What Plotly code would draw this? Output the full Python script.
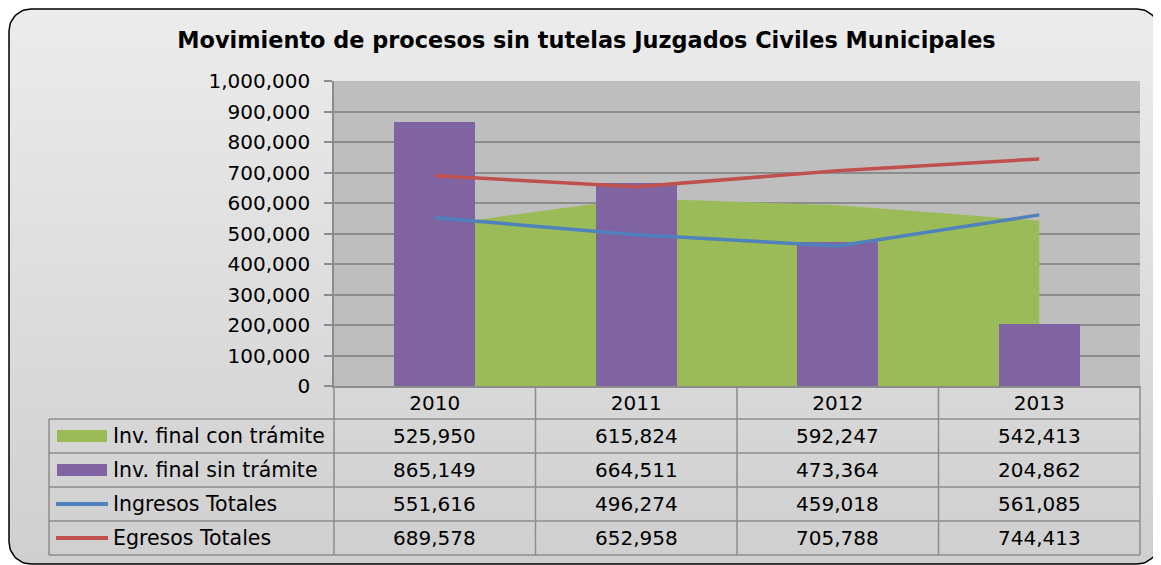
import numpy as np
import plotly.graph_objects as go

# ---------------- data ----------------
years = ["2010", "2011", "2012", "2013"]
inv_con_tramite = [525950, 615824, 592247, 542413]
inv_sin_tramite = [865149, 664511, 473364, 204862]
ingresos_totales = [551616, 496274, 459018, 561085]
egresos_totales = [689578, 652958, 705788, 744413]
series_names = ["Inv. final con trámite", "Inv. final sin trámite",
                "Ingresos Totales", "Egresos Totales"]
y_tickvals = list(range(0, 1000001, 100000))
y_ticktext = [f"{v:,}" for v in y_tickvals]
title = "Movimiento de procesos sin tutelas Juzgados Civiles Municipales"

# ---------------- layout constants (page pixels) ----------------
W, H = 1161, 565
OFF = 8                   # the page body margin that offsets the figure
FW, FH = W - OFF, H - OFF  # figure size so that it ends at the window edge
PX0, PX1 = 334, 1140      # plot area left/right
PY0, PY1 = 81, 386        # plot area top/bottom
ROW_EDGES = [419, 453, 487, 521, 555]
HEADER_TOP = 386
TAB_LEFT = 49

GREEN = '#9BBB59'
PURPLE = '#8064A2'
BLUE = '#4F81BD'
RED = '#C0504D'
GRID = '#8C8C8C'
FONT = 'DejaVu Sans'
FS = 20


def Y(p):
    """page pixel row -> background-axis y"""
    return H - p


cats = list(range(len(years)))

fig = go.Figure()

# ---------- page background (full-figure subplot x/y, page-pixel coordinates) ----------
fig.add_trace(go.Scatter(x=[OFF, W, W, OFF, OFF], y=[0, 0, FH, FH, 0], mode='lines',
                         fill='toself', fillcolor='white', line=dict(width=0),
                         hoverinfo='skip', showlegend=False, xaxis='x', yaxis='y'))

L, R, T, B, r = 9, 1159, 9, 564, 22
pts = []
for (cx, cy, a0, a1) in [(L + r, T + r, 180, 270), (R - r, T + r, 270, 360),
                         (R - r, B - r, 0, 90), (L + r, B - r, 90, 180)]:
    a = np.radians(np.linspace(a0, a1, 16))
    pts += list(zip(cx + r * np.cos(a), cy + r * np.sin(a)))
pts.append(pts[0])
bx = [p[0] for p in pts]
by = [Y(p[1]) for p in pts]
fig.add_trace(go.Scatter(x=bx, y=by, mode='lines', fill='toself',
                         fillgradient=dict(type='vertical',
                                           colorscale=[[0, '#cfcfcf'], [1, '#ececec']]),
                         line=dict(color='black', width=1.5),
                         hoverinfo='skip', showlegend=False, xaxis='x', yaxis='y'))

# ---------- main chart ----------
fig.add_trace(go.Scatter(x=cats, y=inv_con_tramite, name=series_names[0], mode='lines',
                         fill='tozeroy', fillcolor=GREEN, line=dict(width=0, color=GREEN),
                         showlegend=False, xaxis='x2', yaxis='y2'))
fig.add_trace(go.Bar(x=cats, y=inv_sin_tramite, name=series_names[1], width=0.4,
                     marker=dict(color=PURPLE, line=dict(width=0)),
                     showlegend=False, xaxis='x3', yaxis='y3'))
fig.add_trace(go.Scatter(x=cats, y=ingresos_totales, name=series_names[2], mode='lines',
                         line=dict(color=BLUE, width=3.5),
                         showlegend=False, xaxis='x3', yaxis='y3'))
fig.add_trace(go.Scatter(x=cats, y=egresos_totales, name=series_names[3], mode='lines',
                         line=dict(color=RED, width=3.5),
                         showlegend=False, xaxis='x3', yaxis='y3'))

xdom = [(PX0 - OFF) / FW, (PX1 - OFF) / FW]
ydom = [(H - PY1) / FH, (H - PY0) / FH]
xr = [-0.5, len(years) - 0.5]
yr = [0, 1000000]

fig.update_layout(
    template='none',
    width=FW, height=FH,
    margin=dict(l=0, r=0, t=0, b=0, pad=0, autoexpand=False),
    paper_bgcolor='white',
    plot_bgcolor='#BEBEBE',
    showlegend=False,
    font=dict(family=FONT, size=FS, color='black'),
    title=dict(text=title, x=(586.5 - OFF) / FW, xanchor='center', y=(H - 40) / FH,
               yanchor='middle', xref='paper', yref='paper',
               font=dict(family=FONT, size=22.4, color='black', weight='bold')),
    xaxis=dict(domain=[0, 1], range=[OFF, W], visible=False, fixedrange=True,
               automargin=False),
    yaxis=dict(domain=[0, 1], range=[0, FH], visible=False, fixedrange=True,
               automargin=False),
    xaxis2=dict(domain=xdom, range=xr, anchor='y2', tickvals=cats, ticktext=years,
                ticks='', showgrid=False, zeroline=False, automargin=False,
                showline=True, linecolor=GRID, linewidth=1.5,
                tickfont=dict(family=FONT, size=FS, color='black'),
                ticklabelstandoff=-2),
    yaxis2=dict(domain=ydom, range=yr, anchor='x2', tickvals=y_tickvals, ticktext=y_ticktext,
                showgrid=True, gridcolor=GRID, gridwidth=1.5, zeroline=False,
                ticks='outside', ticklen=8, tickcolor=GRID, tickwidth=1.5,
                showline=True, linecolor=GRID, linewidth=1.5, automargin=False,
                tickfont=dict(family=FONT, size=FS, color='black'),
                ticklabelstandoff=10),
    xaxis3=dict(overlaying='x2', range=xr, visible=False, automargin=False),
    yaxis3=dict(overlaying='y2', range=yr, visible=False, automargin=False),
    bargap=0,
)

# ---------- data table ----------
shapes = []
lc = dict(color=GRID, width=1.5)
for yy in ROW_EDGES:
    shapes.append(dict(type='line', xref='x', yref='y', x0=TAB_LEFT, x1=PX1,
                       y0=Y(yy), y1=Y(yy), line=lc, layer='above'))
shapes.append(dict(type='line', xref='x', yref='y', x0=TAB_LEFT, x1=TAB_LEFT,
                   y0=Y(ROW_EDGES[0]), y1=Y(ROW_EDGES[-1]), line=lc, layer='above'))
for xx in (PX0, PX1):
    shapes.append(dict(type='line', xref='x', yref='y', x0=xx, x1=xx,
                       y0=Y(HEADER_TOP), y1=Y(ROW_EDGES[-1]), line=lc, layer='above'))
for c in cats[:-1]:
    shapes.append(dict(type='line', xref='x2', yref='y', x0=c + 0.5, x1=c + 0.5,
                       y0=Y(HEADER_TOP), y1=Y(ROW_EDGES[-1]), line=lc, layer='above'))

# legend keys in the table
row_centers = [(ROW_EDGES[i] + ROW_EDGES[i + 1]) / 2 for i in range(4)]
for i, col in enumerate([GREEN, PURPLE]):
    shapes.append(dict(type='rect', xref='x', yref='y', x0=57, x1=107,
                       y0=Y(row_centers[i] - 6), y1=Y(row_centers[i] + 6),
                       fillcolor=col, line=dict(width=0), layer='above'))
for i, col in [(2, BLUE), (3, RED)]:
    shapes.append(dict(type='line', xref='x', yref='y', x0=56, x1=108,
                       y0=Y(row_centers[i]), y1=Y(row_centers[i]),
                       line=dict(color=col, width=4), layer='above'))

annotations = []
table_rows = [inv_con_tramite, inv_sin_tramite, ingresos_totales, egresos_totales]
for i, (name, vals) in enumerate(zip(series_names, table_rows)):
    annotations.append(dict(xref='x', yref='y', x=111, y=Y(row_centers[i]), text=name,
                            xanchor='left', yanchor='middle', showarrow=False,
                            font=dict(family=FONT, size=20.5, color='black')))
    for c, v in zip(cats, vals):
        annotations.append(dict(xref='x2', yref='y', x=c, y=Y(row_centers[i]), text=f"{v:,}",
                                xanchor='center', yanchor='middle', showarrow=False,
                                font=dict(family=FONT, size=FS, color='black')))

fig.update_layout(shapes=shapes, annotations=annotations)

fig.write_html("out.html")
